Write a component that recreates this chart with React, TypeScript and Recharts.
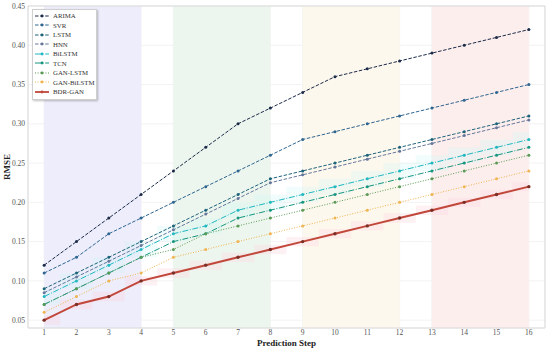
import React from 'react';
import {
  ComposedChart,
  Line,
  Area,
  XAxis,
  YAxis,
  CartesianGrid,
  ReferenceArea,
  Legend,
} from 'recharts';

const STEPS = [1, 2, 3, 4, 5, 6, 7, 8, 9, 10, 11, 12, 13, 14, 15, 16];

const ARIMA = [0.12, 0.15, 0.18, 0.21, 0.24, 0.27, 0.3, 0.32, 0.34, 0.36, 0.37, 0.38, 0.39, 0.4, 0.41, 0.42];
const SVR = [0.11, 0.13, 0.16, 0.18, 0.2, 0.22, 0.24, 0.26, 0.28, 0.29, 0.3, 0.31, 0.32, 0.33, 0.34, 0.35];
const LSTM = [0.09, 0.11, 0.13, 0.15, 0.17, 0.19, 0.21, 0.23, 0.24, 0.25, 0.26, 0.27, 0.28, 0.29, 0.3, 0.31];
const HNN = [0.085, 0.105, 0.125, 0.145, 0.165, 0.185, 0.205, 0.225, 0.235, 0.245, 0.255, 0.265, 0.275, 0.285, 0.295, 0.305];
const BILSTM = [0.08, 0.1, 0.12, 0.14, 0.16, 0.17, 0.19, 0.2, 0.21, 0.22, 0.23, 0.24, 0.25, 0.26, 0.27, 0.28];
const TCN = [0.07, 0.09, 0.11, 0.13, 0.15, 0.16, 0.18, 0.19, 0.2, 0.21, 0.22, 0.23, 0.24, 0.25, 0.26, 0.27];
const GAN_LSTM = [0.07, 0.09, 0.11, 0.13, 0.14, 0.16, 0.17, 0.18, 0.19, 0.2, 0.21, 0.22, 0.23, 0.24, 0.25, 0.26];
const GAN_BILSTM = [0.06, 0.08, 0.1, 0.11, 0.13, 0.14, 0.15, 0.16, 0.17, 0.18, 0.19, 0.2, 0.21, 0.22, 0.23, 0.24];
const BDR_GAN = [0.05, 0.07, 0.08, 0.1, 0.11, 0.12, 0.13, 0.14, 0.15, 0.16, 0.17, 0.18, 0.19, 0.2, 0.21, 0.22];

const Y_TICKS = [0.05, 0.1, 0.15, 0.2, 0.25, 0.3, 0.35, 0.4, 0.45];

// shaded step ranges
const PHASES = [
  { from: 1, to: 4, color: '#ededfb' },
  { from: 5, to: 8, color: '#edf6ee' },
  { from: 9, to: 12, color: '#fdf8ee' },
  { from: 13, to: 16, color: '#fdeeee' },
];

const SERIES = [
  { key: 'arima', name: 'ARIMA', values: ARIMA, color: '#1c2b48', dash: '3.5 1.6', width: 1 },
  { key: 'svr', name: 'SVR', values: SVR, color: '#2f6690', dash: '3.5 1.6', width: 1 },
  { key: 'lstm', name: 'LSTM', values: LSTM, color: '#1d6379', dash: '3.5 1.6', width: 1 },
  { key: 'hnn', name: 'HNN', values: HNN, color: '#66779a', dash: '3.5 1.6', width: 1 },
  { key: 'bilstm', name: 'BiLSTM', values: BILSTM, color: '#1fb8c0', dash: '6 1.6 1 1.6', width: 1 },
  { key: 'tcn', name: 'TCN', values: TCN, color: '#169680', dash: '6 1.6 1 1.6', width: 1 },
  { key: 'ganlstm', name: 'GAN-LSTM', values: GAN_LSTM, color: '#5a9a56', dash: '1 1.6', width: 1 },
  { key: 'ganbilstm', name: 'GAN-BiLSTM', values: GAN_BILSTM, color: '#f0b450', dash: '1 1.6', width: 1 },
  { key: 'bdrgan', name: 'BDR-GAN', values: BDR_GAN, color: '#c0473a', dash: undefined, width: 2 },
];

const FONT = '"Liberation Serif", "DejaVu Serif", serif';

const data = STEPS.map((step, i) => {
  const row: Record<string, any> = { step };
  SERIES.forEach(s => {
    row[s.key] = s.values[i];
  });
  row.bdrBand = [BDR_GAN[i] - 0.006, BDR_GAN[i] + 0.006];
  row.biBand = [BILSTM[i] - 0.01, BILSTM[i] + 0.01];
  return row;
});

const renderLegend = () => (
  <div
    style={{
      background: '#fff',
      border: '1px solid #cfcfcf',
      boxShadow: '1px 1px 2px rgba(0,0,0,0.25)',
      padding: '1px 3px 2px 1px',
      fontFamily: FONT,
      fontSize: 6.8,
      color: '#333',
      lineHeight: '9.5px',
      width: 59,
    }}
  >
    {SERIES.map(s => (
      <div key={s.key} style={{ display: 'flex', alignItems: 'center', height: 9.5, whiteSpace: 'nowrap' }}>
        <svg width={16} height={8} style={{ marginRight: 3, flexShrink: 0 }}>
          <line
            x1={1}
            y1={4}
            x2={15}
            y2={4}
            stroke={s.color}
            strokeWidth={s.width === 2 ? 1.8 : 1}
            strokeDasharray={s.dash}
          />
          <circle cx={8} cy={4} r={1.4} fill={s.color} />
        </svg>
        <span>{s.name}</span>
      </div>
    ))}
  </div>
);

const App = () => {
  return (
    <div style={{ position: 'absolute', left: 0, top: 0, width: 550, height: 351, background: '#fff' }}>
      <ComposedChart
        width={550}
        height={351}
        data={data}
        margin={{ top: 6, right: 5, bottom: 0, left: 0 }}
        style={{ fontFamily: FONT }}
      >
        <CartesianGrid stroke="#efefef" strokeWidth={0.8} />
        {PHASES.map(p => (
          <ReferenceArea
            key={p.from}
            x1={p.from}
            x2={p.to}
            y1={0.04}
            y2={0.45}
            fill={p.color}
            fillOpacity={1}
            stroke="none"
            ifOverflow="hidden"
          />
        ))}
        <XAxis
          dataKey="step"
          type="number"
          domain={[0.5, 16.5]}
          ticks={STEPS}
          allowDataOverflow
          height={23}
          axisLine={false}
          tickLine={false}
          tickSize={2}
          tickMargin={0}
          tick={{ fontSize: 7.5, fill: '#555', fontFamily: FONT }}
          label={{
            content: (props: any) => {
              const vb = props.viewBox;
              return (
                <text
                  x={vb.x + vb.width / 2}
                  y={346}
                  textAnchor="middle"
                  fontFamily={FONT}
                  fontSize={9}
                  fontWeight="bold"
                  fill="#222"
                >
                  Prediction Step
                </text>
              );
            },
          }}
        />
        <YAxis
          type="number"
          domain={[0.04, 0.45]}
          ticks={Y_TICKS}
          allowDataOverflow
          width={28}
          axisLine={false}
          tickLine={false}
          tickSize={3}
          tickMargin={0}
          tickFormatter={(v: number) => v.toFixed(2)}
          tick={{ fontSize: 7.5, fill: '#555', fontFamily: FONT }}
          label={{
            content: (props: any) => {
              const vb = props.viewBox;
              const cy = vb.y + vb.height / 2;
              return (
                <text
                  x={10}
                  y={cy}
                  transform={`rotate(-90, 10, ${cy})`}
                  textAnchor="middle"
                  fontFamily={FONT}
                  fontSize={9}
                  fontWeight="bold"
                  fill="#222"
                >
                  RMSE
                </text>
              );
            },
          }}
        />
        <ReferenceArea
          x1={0.5}
          x2={16.5}
          y1={0.04}
          y2={0.45}
          fill="none"
          stroke="#d9d9d9"
          strokeWidth={1}
        />
        <Area
          dataKey="biBand"
          type="step"
          fill="#d2f4f4"
          fillOpacity={0.3}
          stroke="none"
          legendType="none"
          isAnimationActive={false}
          activeDot={false}
        />
        <Area
          dataKey="bdrBand"
          type="step"
          fill="#fcd6e0"
          fillOpacity={0.35}
          stroke="none"
          legendType="none"
          isAnimationActive={false}
          activeDot={false}
        />
        {SERIES.map(s => (
          <Line
            key={s.key}
            dataKey={s.key}
            name={s.name}
            type="linear"
            stroke={s.color}
            strokeWidth={s.width}
            strokeDasharray={s.dash}
            dot={{ r: s.width === 2 ? 1.7 : 1.5, fill: s.width === 2 ? '#7a2e26' : s.color, stroke: 'none' }}
            activeDot={false}
            isAnimationActive={false}
          />
        ))}
        <Legend
          content={renderLegend}
          layout="vertical"
          verticalAlign="middle"
          align="center"
          wrapperStyle={{ position: 'absolute', left: 32, top: 9, width: 'auto', height: 'auto' }}
        />
      </ComposedChart>
    </div>
  );
};

export default App;
